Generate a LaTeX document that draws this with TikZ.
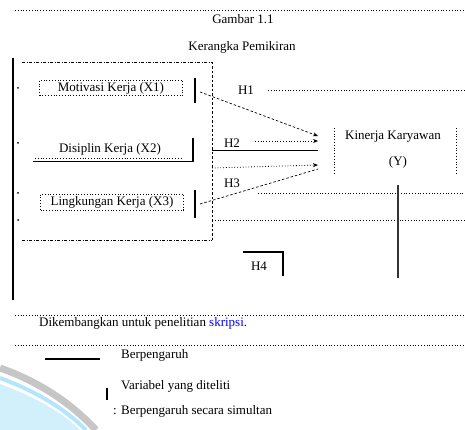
\documentclass[tikz,border=0pt]{standalone}
\usepackage{fontspec}
\setmainfont{Liberation Serif}
\usetikzlibrary{arrows.meta}
\tikzset{
  txt/.style={inner sep=1pt, font=\fontsize{13}{15}\selectfont},
  dotbox/.style={draw, dotted, line width=0.8pt, inner xsep=3pt, inner ysep=2pt, minimum width=143pt, font=\fontsize{13}{15}\selectfont},
  dotline/.style={dotted, line width=0.8pt},
  dashline/.style={dash pattern=on 2.5pt off 2pt, line width=0.7pt},
  dashdot/.style={dash pattern=on 3pt off 1.5pt on 1pt off 1.5pt, line width=0.7pt},
  bar/.style={line width=1.6pt},
  arr/.style={-{Stealth[length=5pt,width=4pt]}},
  tick/.style={circle, fill, inner sep=0pt, minimum size=2pt}
}
\begin{document}
\begin{tikzpicture}[x=1pt,y=-1pt]
\useasboundingbox (0,0) rectangle (465,430);
% watermark arc
\fill[cyan!18] (0,384) .. controls (38,398) and (64,414) .. (80,430) -- (0,430) -- cycle;
\draw[gray!45, line width=7pt] (0,368) .. controls (40,382) and (72,404) .. (96,430);
\draw[cyan!30, line width=4pt] (0,378) .. controls (38,392) and (66,410) .. (86,430);
% header
\coordinate (tl) at (15,10); \coordinate (tr) at (465,10);
\draw[dotline] (tl) -- (tr);
\node[txt] (title) at (243,19) {Gambar 1.1};
\node[txt] (sub) at (242,47) {Kerangka Pemikiran};
% left thick line
\coordinate (la) at (13,58); \coordinate (lb) at (13,300);
\draw[bar] (la) -- (lb);
% dash-dot rectangle
\coordinate (r1) at (22,62); \coordinate (r2) at (212,62);
\coordinate (r3) at (212,240); \coordinate (r4) at (22,240);
\draw[dashdot] (r1) -- (r2);
\draw[dashline] (r2) -- (r3);
\draw[dashdot] (r4) -- (r3);
% ticks
\foreach \yy/\nm in {88/t1,143/t2,193/t3,220/t4}{\node[tick] (\nm) at (18,\yy) {};}
% boxes
\node[dotbox] (x1) at (111,88) {Motivasi Kerja (X1)};
\node[txt] (x2) at (110,149) {Disiplin Kerja (X2)};
\coordinate (u1) at (35,158); \coordinate (u2) at (183,158);
\draw[dotline] (u1) -- (u2);
\coordinate (v1) at (33,162); \coordinate (v2) at (193,162);
\draw[line width=1pt] (v1) -- (v2);
\node[dotbox] (x3) at (112,202) {Lingkungan Kerja (X3)};
% bars
\coordinate (b1a) at (195,78); \coordinate (b1b) at (195,103);
\draw[bar] (b1a) -- (b1b);
\coordinate (b2a) at (193,138); \coordinate (b2b) at (193,162);
\draw[bar] (b2a) -- (b2b);
\coordinate (b3a) at (195,190); \coordinate (b3b) at (195,218);
\draw[bar] (b3a) -- (b3b);
% target
\node[txt] (y) at (393,137) {Kinerja Karyawan};
\node[txt] (yy) at (398,162) {(Y)};
\coordinate (ya) at (334,128); \coordinate (yb) at (334,173);
\coordinate (yc) at (456,128); \coordinate (yd) at (456,173);
\draw[dotline] (ya) -- (yb);
\draw[dotline] (yc) -- (yd);
% arrows
\coordinate (s1) at (200,92); \coordinate (e1) at (318,136);
\draw[dashline,arr] (s1) -- (e1);
\coordinate (s2) at (212,150); \coordinate (e2) at (318,150);
\draw[line width=0.9pt] (s2) -- (e2);
\coordinate (s2b) at (255,141); \coordinate (e2b) at (318,141);
\draw[dotline,arr] (s2b) -- (e2b);
\coordinate (s3) at (212,168); \coordinate (e3) at (318,165);
\draw[dotline,arr] (s3) -- (e3);
\coordinate (s4) at (200,204); \coordinate (e4) at (318,169);
\draw[dashline] (s4) -- (e4);
% labels
\node[txt] (h1) at (246,90) {H1};
\coordinate (h1a) at (268,90); \coordinate (h1b) at (465,90);
\draw[dotline] (h1a) -- (h1b);
\node[txt] (h2) at (232,143) {H2};
\node[txt] (h3) at (232,183) {H3};
\coordinate (g1) at (258,193); \coordinate (g2) at (465,193);
\draw[dotline] (g1) -- (g2);
\coordinate (g3) at (212,220); \coordinate (g4) at (465,220);
\draw[dotline] (g3) -- (g4);
\coordinate (va) at (398,185); \coordinate (vb) at (398,278);
\draw[line width=1.2pt, black!80] (va) -- (vb);
% H4
\node[txt] (h4) at (259,266) {H4};
\coordinate (k1) at (243,252); \coordinate (k2) at (283,252); \coordinate (k3) at (283,276);
\draw[line width=1.2pt] (k1) -- (k2) -- (k3);
% footer
\coordinate (f1) at (15,315); \coordinate (f2) at (465,315);
\draw[dotline] (f1) -- (f2);
\node[txt, anchor=west] (src) at (38,323) {Dikembangkan untuk penelitian \textcolor{blue}{skripsi}.};
\coordinate (f3) at (15,345); \coordinate (f4) at (465,345);
\draw[dotline] (f3) -- (f4);
% legend
\coordinate (l1) at (45,359); \coordinate (l2) at (100,359);
\draw[line width=1.2pt] (l1) -- (l2);
\node[txt, anchor=west] (lg1) at (120,355) {Berpengaruh};
\coordinate (l3) at (107,388); \coordinate (l4) at (107,400);
\draw[bar] (l3) -- (l4);
\node[txt, anchor=west] (lg2) at (120,386) {Variabel yang diteliti};
\node[txt, anchor=west] (lg3) at (112,411) {: Berpengaruh secara simultan};
\end{tikzpicture}
\end{document}
